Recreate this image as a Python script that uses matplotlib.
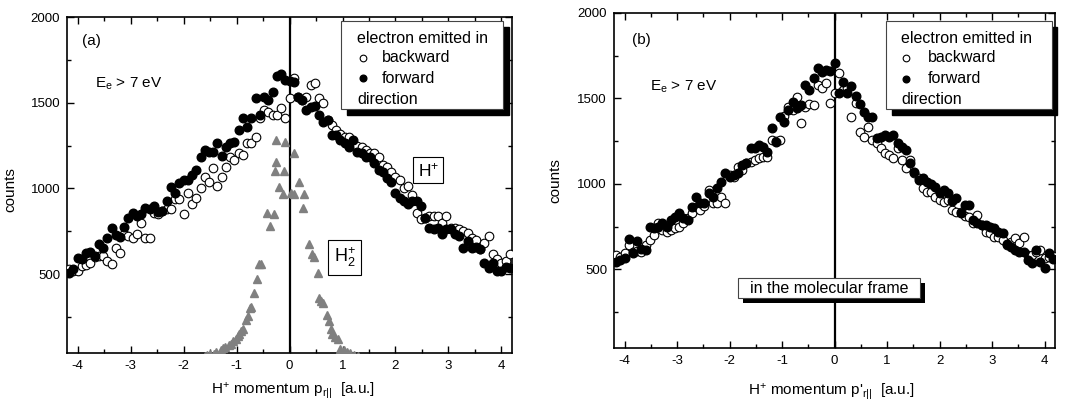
import numpy as np
import matplotlib
matplotlib.use("Agg")
import matplotlib.pyplot as plt
from matplotlib.patches import Rectangle
from matplotlib.ticker import MultipleLocator

plt.rcParams['font.family'] = ['Liberation Sans', 'DejaVu Sans']
plt.rcParams['mathtext.fontset'] = 'custom'
plt.rcParams['mathtext.rm'] = 'Liberation Sans'
plt.rcParams['mathtext.it'] = 'Liberation Sans:italic'

# bin centres of the momentum histograms (0.08 a.u. bins)
p_bins = np.round(np.arange(-4.16, 4.17, 0.08), 2)

# (a) lab frame, H+ counts
a_forward = [505, 530, 594, 588, 623, 630, 606, 676, 653, 712, 770, 729, 717, 776, 829,
             859, 841, 853, 888, 882, 900, 862, 870, 929, 1006, 976, 1029, 1047, 1047, 1080,
             1106, 1182, 1223, 1211, 1211, 1264, 1188, 1241, 1264, 1270, 1341, 1411, 1358, 1411, 1529,
             1429, 1535, 1517, 1564, 1653, 1670, 1635, 1624, 1620, 1535, 1517, 1458, 1476, 1482, 1429,
             1388, 1400, 1311, 1311, 1282, 1264, 1241, 1282, 1211, 1205, 1182, 1182, 1147, 1106, 1094,
             1059, 1035, 976, 947, 929, 912, 929, 929, 900, 829, 770, 764, 770, 735, 764,
             764, 735, 723, 653, 694, 653, 660, 647, 565, 535, 565, 518, 518, 540, 535]
a_backward = [529, 520, 518, 547, 555, 565, 600, 606, 606, 576, 559, 653, 623, 735, 723,
              712, 735, 800, 712, 712, 859, 853, 870, 882, 882, 941, 941, 853, 976, 912,
              947, 1000, 1064, 1035, 1117, 1017, 1064, 1123, 1182, 1164, 1205, 1194, 1264, 1264, 1300,
              1411, 1458, 1447, 1429, 1429, 1470, 1411, 1529, 1647, 1535, 1517, 1535, 1605, 1617, 1529,
              1500, 1400, 1370, 1341, 1317, 1300, 1300, 1264, 1250, 1241, 1223, 1205, 1205, 1182, 1135,
              1123, 1094, 1064, 1047, 1000, 1017, 964, 859, 823, 830, 841, 841, 841, 800, 841,
              770, 770, 764, 753, 740, 712, 700, 647, 682, 723, 617, 590, 565, 576, 617]

# (a) H2+ counts (grey triangles)
h2_p = [-1.60, -1.55, -1.50, -1.43, -1.38, -1.30, -1.25, -1.21, -1.15, -1.11, -1.06, -1.02,
        -0.98, -0.96, -0.91, -0.87, -0.83, -0.79, -0.75, -0.72, -0.68, -0.62, -0.58, -0.53,
        -0.42, -0.36, -0.30, -0.28, -0.25, -0.25, -0.19, -0.13, -0.11, -0.08, 0.02, 0.09,
        0.09, 0.17, 0.25, 0.28, 0.36, 0.43, 0.47, 0.53, 0.55, 0.60, 0.64, 0.70, 0.74, 0.78,
        0.81, 0.86, 0.91, 0.96, 1.02, 1.09, 1.15, 1.21, 1.30]
h2_counts = [22, 30, 32, 35, 45, 59, 70, 76, 85, 94, 110, 124,
             140, 153, 170, 182, 230, 253, 300, 310, 388, 470, 559, 559,
             859, 782, 853, 1100, 1153, 1282, 1006, 970, 1100, 1270, 976, 970,
             1205, 1035, 888, 970, 676, 618, 600, 506, 359, 345, 330, 260, 224, 180,
             153, 135, 124, 65, 55, 47, 38, 30, 25]

# (b) molecular frame, H+ counts
b_forward = [541, 553, 564, 676, 594, 664, 620, 611, 746, 740, 746, 769, 746, 787, 804,
             828, 798, 787, 863, 921, 886, 886, 944, 921, 974, 1009, 1062, 1038, 1050, 1062,
             1108, 1120, 1208, 1208, 1225, 1214, 1185, 1325, 1243, 1389, 1360, 1430, 1477, 1442, 1459,
             1576, 1547, 1617, 1676, 1652, 1664, 1660, 1705, 1529, 1594, 1530, 1570, 1512, 1470, 1419,
             1389, 1389, 1266, 1272, 1284, 1272, 1284, 1240, 1214, 1196, 1120, 1068, 1021, 1032, 1009,
             1000, 980, 944, 962, 944, 900, 915, 828, 874, 874, 787, 769, 757, 757, 746,
             740, 716, 711, 650, 629, 611, 599, 599, 553, 535, 611, 541, 506, 594, 560]
b_backward = [582, 570, 594, 640, 599, 610, 599, 640, 670, 699, 769, 730, 716, 730, 740,
              746, 769, 798, 828, 863, 845, 870, 962, 886, 886, 921, 886, 1050, 1040, 1097,
              1079, 1120, 1126, 1140, 1149, 1160, 1155, 1255, 1250, 1255, 1400, 1448, 1430, 1506, 1354,
              1448, 1470, 1459, 1576, 1560, 1588, 1471, 1529, 1646, 1547, 1560, 1389, 1471, 1301, 1272,
              1331, 1255, 1240, 1208, 1180, 1167, 1149, 1208, 1138, 1091, 1138, 1062, 1032, 974, 951,
              951, 921, 904, 892, 904, 845, 834, 834, 810, 804, 769, 816, 760, 716, 711,
              687, 690, 670, 640, 660, 681, 652, 687, 582, 582, 600, 611, 564, 570, 580]

x_ticks = [-4, -3, -2, -1, 0, 1, 2, 3, 4]
y_ticks = [500, 1000, 1500, 2000]

fig = plt.figure(figsize=(10.71, 4.03), dpi=100)
ax_a = fig.add_axes([0.0626, 0.1241, 0.4155, 0.8337])
ax_b = fig.add_axes([0.5733, 0.1365, 0.4118, 0.8313])

ms = 6.2
fs = 11.5


def style(ax):
    ax.set_xlim(-4.2, 4.2)
    ax.set_ylim(40, 2000)
    ax.set_xticks(x_ticks)
    ax.set_xticklabels([str(t) for t in x_ticks])
    ax.set_yticks(y_ticks)
    ax.xaxis.set_minor_locator(MultipleLocator(0.5))
    ax.yaxis.set_minor_locator(MultipleLocator(250))
    ax.tick_params(which='both', direction='in', top=True, right=True,
                   width=1.0, labelsize=9.5)
    ax.tick_params(which='major', length=5, pad=5)
    ax.tick_params(which='minor', length=3)
    for s in ax.spines.values():
        s.set_linewidth(1.2)
    ax.axvline(0, color='black', lw=1.6, zorder=2)
    ax.set_ylabel('counts', fontsize=11)


def legend_box(ax, x0, x1, y0, y1, tx, mx, lx, ty):
    w = ax.bbox.width
    h = ax.bbox.height
    dx, dy = 5.5 / w, 6.0 / h
    ax.add_patch(Rectangle((x0 + dx, y0 - dy), x1 - x0, y1 - y0, transform=ax.transAxes,
                           facecolor='black', edgecolor='black', zorder=8, clip_on=False))
    ax.add_patch(Rectangle((x0, y0), x1 - x0, y1 - y0, transform=ax.transAxes,
                           facecolor='white', edgecolor='#444444', lw=0.8, zorder=9, clip_on=False))
    ax.text(tx, ty[0], 'electron emitted in', transform=ax.transAxes, fontsize=fs,
            va='center', ha='left', zorder=10)
    ax.plot([mx], [ty[1]], 'o', transform=ax.transAxes, ms=4.8, mfc='white', mec='black',
            mew=0.8, zorder=10, clip_on=False)
    ax.text(lx, ty[1], 'backward', transform=ax.transAxes, fontsize=fs, va='center', zorder=10)
    ax.plot([mx], [ty[2]], 'o', transform=ax.transAxes, ms=4.8, color='black',
            zorder=10, clip_on=False)
    ax.text(lx, ty[2], 'forward', transform=ax.transAxes, fontsize=fs, va='center', zorder=10)
    ax.text(tx, ty[3], 'direction', transform=ax.transAxes, fontsize=fs,
            va='center', ha='left', zorder=10)


# panel (a)
style(ax_a)
ax_a.plot(h2_p, h2_counts, '^', color='#808080', ms=6, mec='#808080', ls='none', zorder=3)
ax_a.plot(p_bins, a_backward, 'o', ms=ms, mfc='white', mec='black', mew=0.8, ls='none', zorder=4)
ax_a.plot(p_bins, a_forward, 'o', ms=ms, color='black', ls='none', zorder=5)
ax_a.text(0.034, 0.93, '(a)', transform=ax_a.transAxes, fontsize=11, va='center')
ax_a.text(0.063, 0.80, r'E$_{\mathrm{e}}$ > 7 eV', transform=ax_a.transAxes, fontsize=11,
          va='center')
ax_a.text(0.812, 0.545, r'H$^{+}$', transform=ax_a.transAxes, fontsize=12.5, ha='center',
          va='center', bbox=dict(boxstyle='square,pad=0.25', fc='white', ec='black', lw=0.8))
ax_a.text(0.624, 0.284, r'H$_{2}^{+}$', transform=ax_a.transAxes, fontsize=13, ha='center',
          va='center', bbox=dict(boxstyle='square,pad=0.3', fc='white', ec='black', lw=0.8))
legend_box(ax_a, 0.616, 0.980, 0.726, 0.988, 0.652, 0.664, 0.708,
           [0.9375, 0.878, 0.818, 0.753])
ax_a.set_xlabel(r'H$^{+}$ momentum p$_{\mathrm{r||}}$  [a.u.]', fontsize=11)
ax_a.xaxis.set_label_coords(0.508, -0.083)
ax_a.yaxis.set_label_coords(-0.112, 0.485)

# panel (b)
style(ax_b)
ax_b.plot(p_bins, b_backward, 'o', ms=ms, mfc='white', mec='black', mew=0.8, ls='none', zorder=4)
ax_b.plot(p_bins, b_forward, 'o', ms=ms, color='black', ls='none', zorder=5)
ax_b.text(0.041, 0.919, '(b)', transform=ax_b.transAxes, fontsize=11, va='center')
ax_b.text(0.082, 0.779, r'E$_{\mathrm{e}}$ > 7 eV', transform=ax_b.transAxes, fontsize=11,
          va='center')
legend_box(ax_b, 0.617, 0.993, 0.713, 0.976, 0.651, 0.661, 0.712,
           [0.925, 0.866, 0.803, 0.743])
# "in the molecular frame" box with shadow
wb, hb = ax_b.bbox.width, ax_b.bbox.height
ax_b.add_patch(Rectangle((0.281 + 5 / wb, 0.149 - 5 / hb), 0.413, 0.060, transform=ax_b.transAxes,
                         facecolor='black', zorder=8))
ax_b.add_patch(Rectangle((0.281, 0.149), 0.413, 0.060, transform=ax_b.transAxes,
                         facecolor='white', edgecolor='#444444', lw=0.8, zorder=9))
ax_b.text(0.4875, 0.179, 'in the molecular frame', transform=ax_b.transAxes, fontsize=fs,
          ha='center', va='center', zorder=10)
ax_b.set_xlabel(r"H$^{+}$ momentum p'$_{\mathrm{r||}}$  [a.u.]", fontsize=11)
ax_b.xaxis.set_label_coords(0.494, -0.100)
ax_b.yaxis.set_label_coords(-0.116, 0.5)

fig.savefig('out.png', dpi=100)
